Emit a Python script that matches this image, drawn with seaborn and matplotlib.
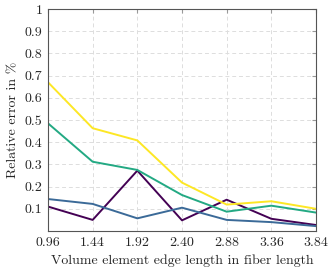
import pandas as pd
import matplotlib
matplotlib.use('Agg')
import matplotlib.pyplot as plt
import seaborn as sns

edge_length = [0.96, 1.44, 1.92, 2.40, 2.88, 3.36, 3.84]
err_a = [0.110, 0.050, 0.272, 0.048, 0.141, 0.055, 0.027]   # purple
err_b = [0.144, 0.122, 0.057, 0.105, 0.050, 0.040, 0.022]   # blue
err_c = [0.485, 0.312, 0.275, 0.162, 0.087, 0.114, 0.083]   # green
err_d = [0.670, 0.463, 0.408, 0.218, 0.119, 0.134, 0.100]   # yellow
series_names = ['a', 'b', 'c', 'd']
colors = ['#440154', '#3b6a98', '#23a983', '#fde725']
x_ticks = [0.96, 1.44, 1.92, 2.40, 2.88, 3.36, 3.84]
y_ticks = [0.1, 0.2, 0.3, 0.4, 0.5, 0.6, 0.7, 0.8, 0.9, 1.0]

rows = []
for name, vals in zip(series_names, [err_a, err_b, err_c, err_d]):
    for x, v in zip(edge_length, vals):
        rows.append({'x': x, 'err': v, 'series': name})
df = pd.DataFrame(rows)

sns.set_style('white')
plt.rcParams['font.family'] = ['cmr10']
plt.rcParams['axes.formatter.use_mathtext'] = True
plt.rcParams['font.size'] = 10

fig = plt.figure(figsize=(3.33, 2.72), dpi=100)
ax = fig.add_axes([48 / 333, 1 - 231 / 272, (316 - 48) / 333, (231 - 9) / 272])
sns.lineplot(data=df, x='x', y='err', hue='series', palette=colors,
             linewidth=1.4, legend=False, ax=ax)

ax.set_xlim(0.96, 3.84)
ax.set_ylim(0, 1)
ax.set_xticks(x_ticks)
ax.set_xticklabels(['%.2f' % t for t in x_ticks])
ax.set_yticks(y_ticks)
ax.set_yticklabels(['%g' % t for t in y_ticks])
ax.grid(True, linestyle=(0, (4, 3)), color='#dddddd', linewidth=0.7)
ax.tick_params(direction='in', length=3, color='#999999', top=True, right=True,
               labelsize=10, pad=4)
for s in ax.spines.values():
    s.set_color('#555555')
    s.set_linewidth(0.8)
ax.set_xlabel('Volume element edge length in fiber length', fontsize=10, labelpad=4)
ax.set_ylabel('Relative error in %', fontsize=10, labelpad=4)

fig.savefig('out.png', dpi=100)
